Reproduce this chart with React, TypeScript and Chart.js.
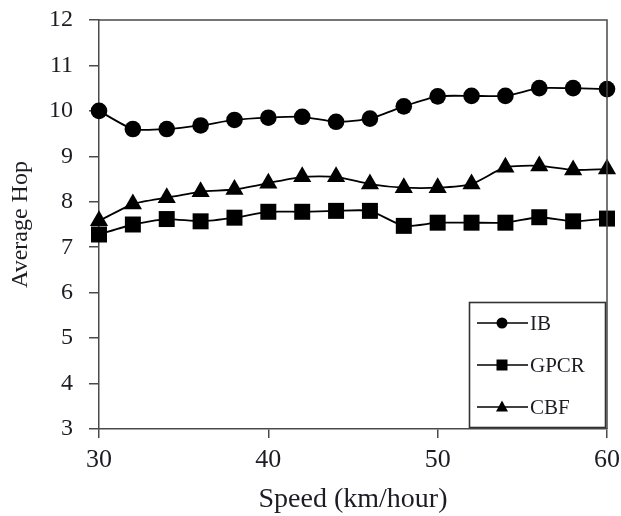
import React, { useEffect, useRef } from "react";
import { Chart, registerables } from "chart.js";

Chart.register(...registerables);

const speeds = [30, 32, 34, 36, 38, 40, 42, 44, 46, 48, 50, 52, 54, 56, 58, 60];
const ibValues = [10.0, 9.6, 9.6, 9.68, 9.8, 9.85, 9.87, 9.76, 9.83, 10.1, 10.32, 10.33, 10.33, 10.5, 10.5, 10.48];
const gpcrValues = [7.28, 7.5, 7.62, 7.57, 7.65, 7.78, 7.78, 7.8, 7.8, 7.47, 7.54, 7.54, 7.54, 7.66, 7.57, 7.63];
const cbfValues = [7.58, 7.95, 8.09, 8.22, 8.27, 8.41, 8.55, 8.55, 8.39, 8.31, 8.31, 8.39, 8.76, 8.79, 8.7, 8.72];
const seriesLabels = ["IB", "GPCR", "CBF"];
const pointStyles = ["circle", "rect", "triangle"];
const pointRadii = [8.3, 11.3, 10.5];
const xTitle = "Speed (km/hour)";
const yTitle = "Average Hop";

const FONT = "'Liberation Serif', 'Times New Roman', serif";
const AXIS = "#4a4a4a";
const TEXT = "#1c1c24";

const frameAndLegend = {
  id: "frameAndLegend",
  afterDatasetsDraw(chart: any) {
    const { ctx, chartArea } = chart;
    ctx.save();
    ctx.strokeStyle = AXIS;
    ctx.lineWidth = 1.5;
    ctx.beginPath();
    ctx.moveTo(chartArea.left, chartArea.top);
    ctx.lineTo(chartArea.right, chartArea.top);
    ctx.lineTo(chartArea.right, chartArea.bottom);
    ctx.stroke();

    // legend box
    const bx = 469.5, by = 302.5, bw = 136, bh = 125;
    ctx.fillStyle = "#fff";
    ctx.fillRect(bx, by, bw, bh);
    ctx.strokeStyle = "#333";
    ctx.lineWidth = 1.6;
    ctx.strokeRect(bx, by, bw, bh);

    chart.data.datasets.forEach((ds: any, i: number) => {
      const y = 323 + i * 42;
      ctx.strokeStyle = "#000";
      ctx.lineWidth = 1.6;
      ctx.beginPath();
      ctx.moveTo(477, y);
      ctx.lineTo(528, y);
      ctx.stroke();
      ctx.fillStyle = "#000";
      const cx = 502;
      ctx.beginPath();
      if (ds.pointStyle === "circle") {
        ctx.arc(cx, y, 5.5, 0, Math.PI * 2);
      } else if (ds.pointStyle === "rect") {
        ctx.rect(cx - 5.5, y - 5.5, 11, 11);
      } else {
        ctx.moveTo(cx, y - 6.5);
        ctx.lineTo(cx + 6, y + 4.5);
        ctx.lineTo(cx - 6, y + 4.5);
        ctx.closePath();
      }
      ctx.fill();
      ctx.fillStyle = TEXT;
      ctx.font = `21px ${FONT}`;
      ctx.textBaseline = "middle";
      ctx.textAlign = "left";
      ctx.fillText(ds.label, 530, y + 1);
    });
    ctx.restore();
  },
};

export default function App() {
  const ref = useRef<HTMLCanvasElement>(null);
  useEffect(() => {
    if (!ref.current) return;
    const allValues = [ibValues, gpcrValues, cbfValues];
    const chart = new Chart(ref.current, {
      type: "line",
      data: {
        datasets: seriesLabels.map((label, i) => ({
          label,
          data: speeds.map((s, j) => ({ x: s, y: allValues[i][j] })),
          borderColor: "#000",
          backgroundColor: "#000",
          borderWidth: 1.8,
          pointStyle: pointStyles[i] as any,
          pointRadius: pointRadii[i],
          pointBackgroundColor: "#000",
          pointBorderColor: "#000",
          pointBorderWidth: 0,
          tension: 0.2,
          clip: false as any,
        })),
      },
      options: {
        responsive: false,
        animation: false,
        layout: { padding: { top: 20, right: 0, bottom: 0, left: 0 } },
        plugins: { legend: { display: false }, tooltip: { enabled: false } },
        scales: {
          x: {
            type: "linear",
            min: 30,
            max: 60,
            ticks: {
              stepSize: 10,
              color: TEXT,
              font: { family: FONT, size: 26 },
              padding: 7,
              maxRotation: 0,
            },
            grid: { drawOnChartArea: false, color: AXIS, tickLength: 9, lineWidth: 1.5 },
            border: { color: AXIS, width: 1.5 },
            title: {
              display: true,
              text: xTitle,
              color: TEXT,
              font: { family: FONT, size: 28 },
              padding: 0,
            },
            afterFit: (scale: any) => {
              scale.height = 87;
              scale.paddingRight = 14;
            },
          } as any,
          y: {
            min: 3,
            max: 12,
            ticks: {
              stepSize: 1,
              color: TEXT,
              font: { family: FONT, size: 24 },
              padding: 16,
            },
            grid: { drawOnChartArea: false, color: AXIS, tickLength: 10, lineWidth: 1.5 },
            border: { color: AXIS, width: 1.5 },
            title: {
              display: true,
              text: yTitle,
              color: TEXT,
              font: { family: FONT, size: 24 },
              padding: { top: 6, bottom: 0 },
            },
            afterFit: (scale: any) => {
              scale.width = 99;
              scale.paddingTop = 9;
            },
          } as any,
        },
      },
      plugins: [frameAndLegend],
    });
    return () => chart.destroy();
  }, []);
  return (
    <div style={{ position: "absolute", left: 0, top: 0, width: 621, height: 516, background: "#fff" }}>
      <canvas ref={ref} width={621} height={516} style={{ display: "block" }} />
    </div>
  );
}
